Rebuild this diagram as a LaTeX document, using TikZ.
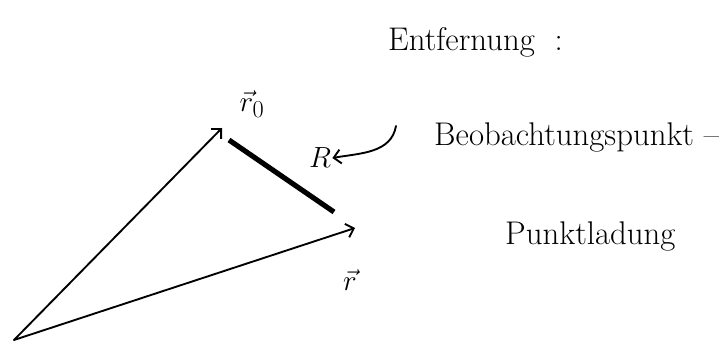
\documentclass[tikz,border=0pt]{standalone}
\usepackage{amsmath}
\usetikzlibrary{arrows.meta, positioning, calc}
\tikzset{
  vecline/.style={-{Straight Barb[length=6pt,width=12pt]}, line width=1.6pt, line cap=round},
  distline/.style={line width=4.4pt},
  notearrow/.style={-{Straight Barb[length=6pt,width=12pt]}, line width=1.6pt, line cap=round},
  notetext/.style={font=\fontsize{28}{32}\selectfont, anchor=west, inner sep=0pt},
  veclabel/.style={font=\fontsize{32}{36}\selectfont, inner sep=1pt}
}

\begin{document}
\begin{tikzpicture}[x=0.03cm, y=-0.03cm]
  \useasboundingbox (0,0) rectangle (727,349);

  % Ursprung und Vektorspitzen
  \coordinate (orig) at (14,340);
  \coordinate (rnull) at (222,128);
  \coordinate (rvec) at (355,228);
  \draw[vecline] (orig) -- (rnull);
  \draw[vecline] (orig) -- (rvec);

  % Abstand R
  \coordinate (Rstart) at (229,140);
  \coordinate (Rend) at (334,212);
  \draw[distline] (Rstart) -- (Rend);

  \node[veclabel] (lrnull) at (252,104) {$\vec r_0$};
  \node[veclabel] (lrvec) at (350,280) {$\vec r$};
  \node[veclabel] (lR) at (320,158) {$R$};
  \coordinate (pfeilstart) at (396,126);
  \draw[notearrow] (pfeilstart) to[out=-100, in=10] (lR.east);

  % Notizen
  \node[notetext] (entf) at (388,42) {Entfernung\ \ :};
  \node[notetext] (beob) at (434,137) {Beobachtungspunkt --};
  \node[notetext] (ladung) at (505,236) {Punktladung};
\end{tikzpicture}
\end{document}
